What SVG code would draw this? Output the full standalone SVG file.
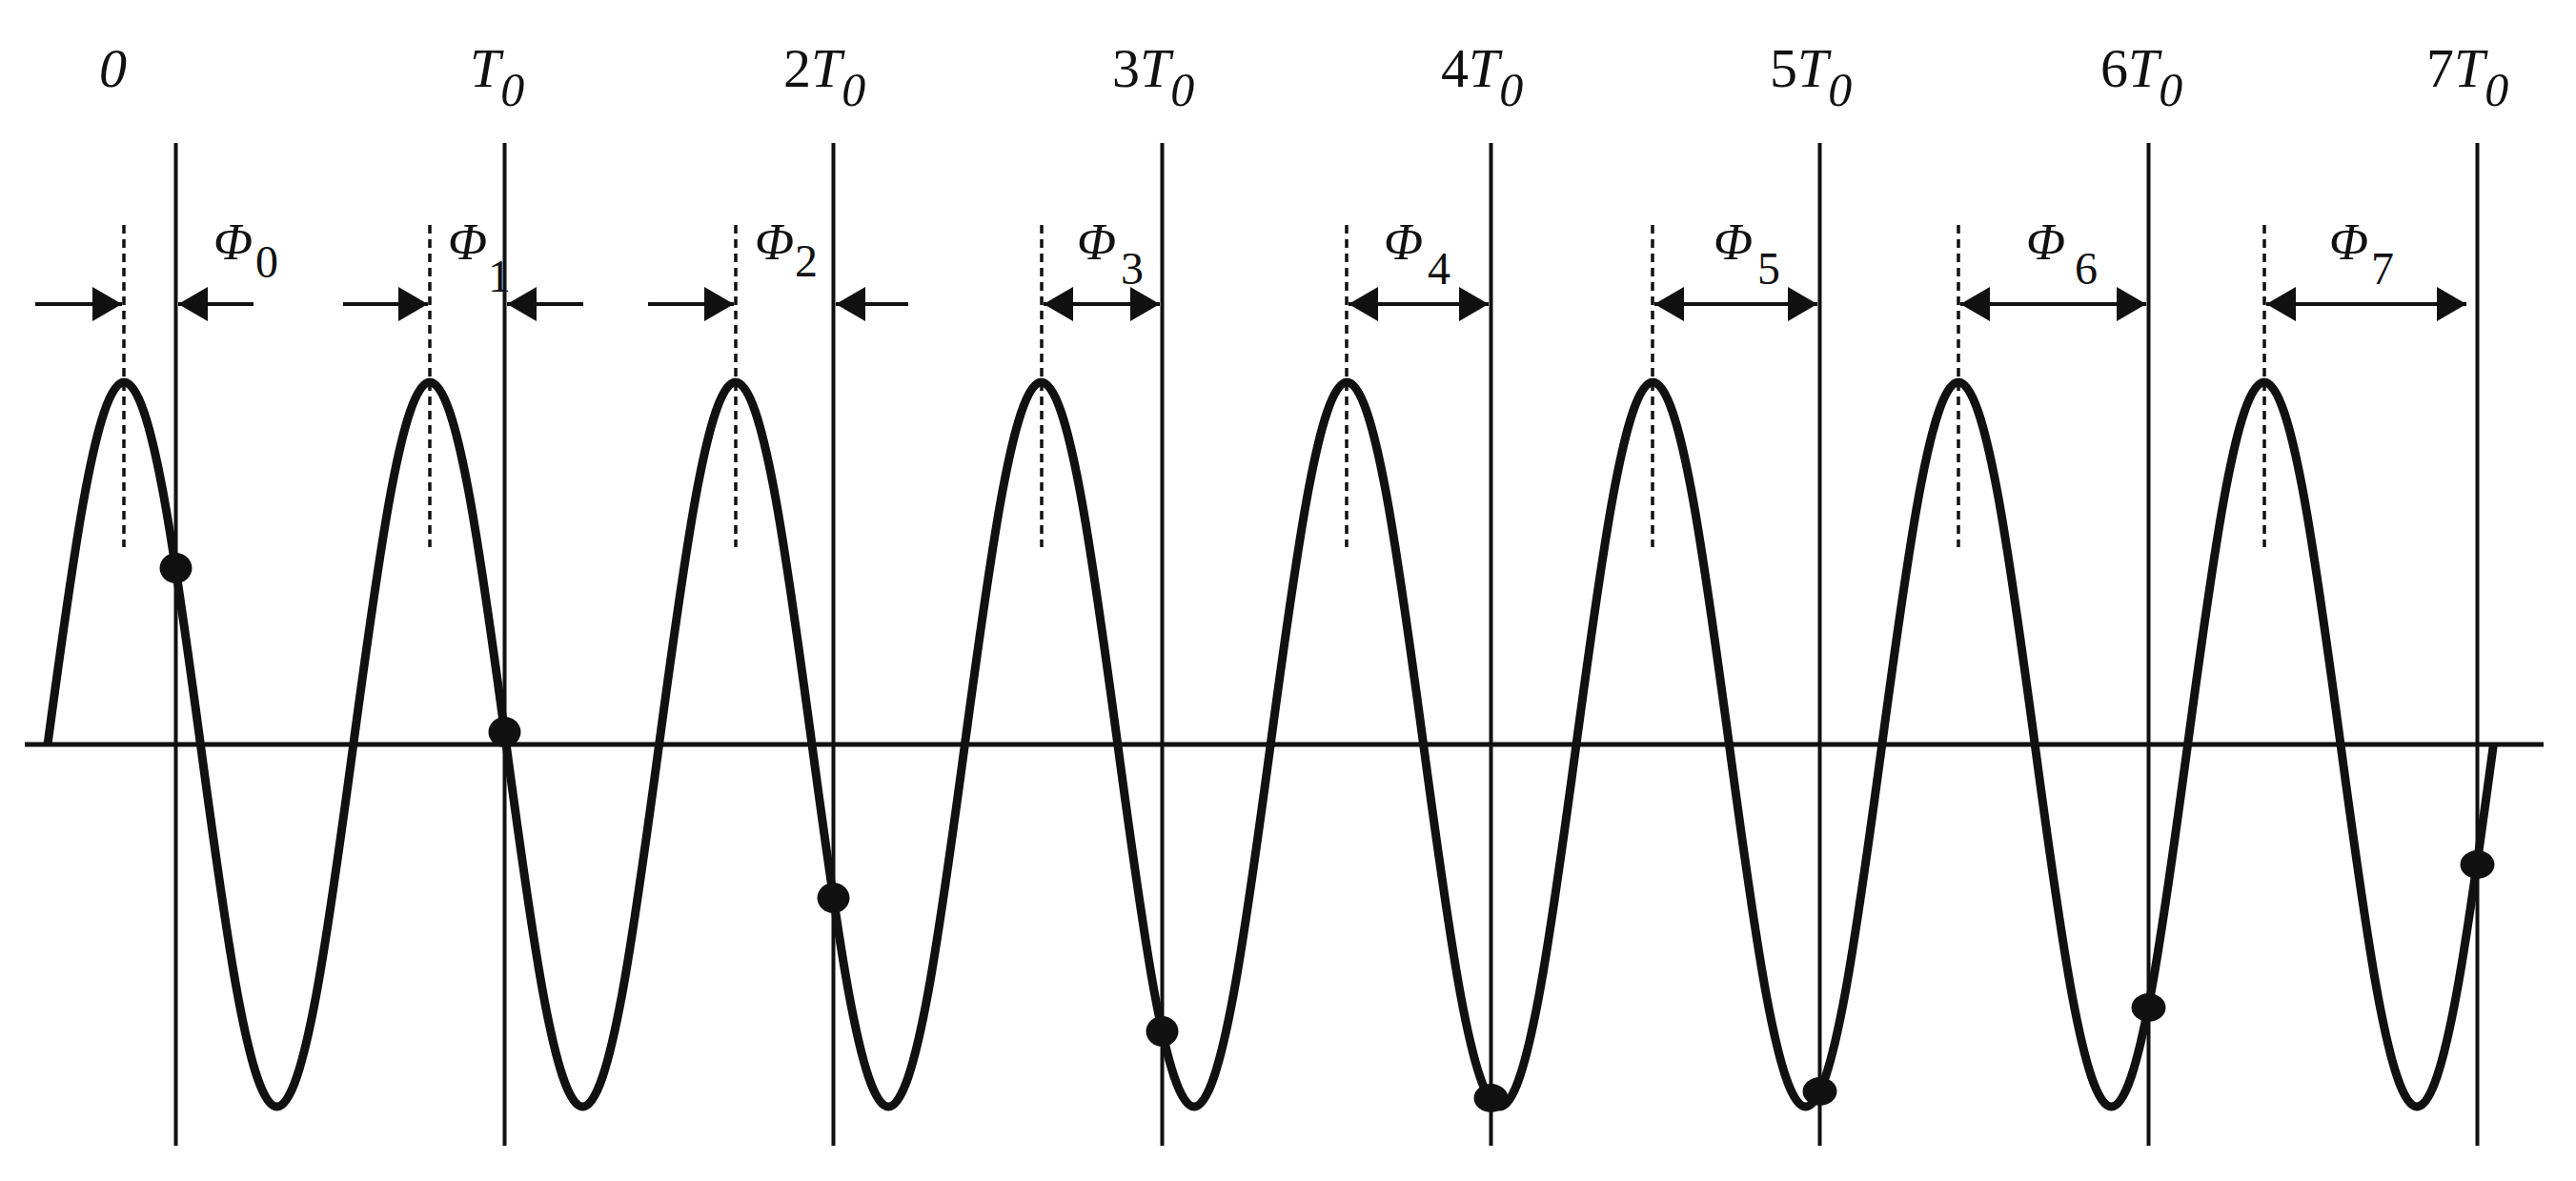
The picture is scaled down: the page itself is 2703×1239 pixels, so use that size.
<svg xmlns="http://www.w3.org/2000/svg" width="2703" height="1239" viewBox="0 0 2703 1239">
<style>
.vl{stroke:#111;stroke-width:4;fill:none}
.ax{stroke:#111;stroke-width:5;fill:none}
.dl{stroke:#111;stroke-width:3.5;stroke-dasharray:9,6;fill:none}
.ar{stroke:#111;stroke-width:4;fill:none;marker-end:url(#ah)}
.dar{stroke:#111;stroke-width:4;fill:none;marker-end:url(#ah);marker-start:url(#ah)}
.cv{stroke:#111;stroke-width:9;fill:none;stroke-linejoin:round}
.dot{fill:#111}
text{font-family:"Liberation Serif","Times New Roman",serif;fill:#111}
.lb{font-size:58px}
.sb{font-size:50px}
.ph{font-size:54px;font-style:italic}
.ps{font-size:48px}
.it{font-style:italic}
</style>
<defs>
<marker id="ah" markerUnits="userSpaceOnUse" markerWidth="32" markerHeight="36" refX="31" refY="18" orient="auto-start-reverse"><path d="M0,0 L31,18 L0,36 Z" fill="#111"/></marker>
</defs>
<g id="axis"><line class="ax" x1="26" y1="781" x2="2669" y2="781"/></g>
<g id="gridlines">
<line class="vl" x1="184.5" y1="150" x2="184.5" y2="1202"/>
<line class="vl" x1="529.5" y1="150" x2="529.5" y2="1202"/>
<line class="vl" x1="874.5" y1="150" x2="874.5" y2="1202"/>
<line class="vl" x1="1219.5" y1="150" x2="1219.5" y2="1202"/>
<line class="vl" x1="1564.5" y1="150" x2="1564.5" y2="1202"/>
<line class="vl" x1="1909.5" y1="150" x2="1909.5" y2="1202"/>
<line class="vl" x1="2254.5" y1="150" x2="2254.5" y2="1202"/>
<line class="vl" x1="2599.5" y1="150" x2="2599.5" y2="1202"/>
</g>
<g id="peaklines">
<line class="dl" x1="130" y1="236" x2="130" y2="574"/>
<line class="dl" x1="451" y1="236" x2="451" y2="574"/>
<line class="dl" x1="772" y1="236" x2="772" y2="574"/>
<line class="dl" x1="1093" y1="236" x2="1093" y2="574"/>
<line class="dl" x1="1413" y1="236" x2="1413" y2="574"/>
<line class="dl" x1="1734" y1="236" x2="1734" y2="574"/>
<line class="dl" x1="2055" y1="236" x2="2055" y2="574"/>
<line class="dl" x1="2376" y1="236" x2="2376" y2="574"/>
</g>
<g id="curve">
<path class="cv" d="M50,781 c26.16,-194.7 51.18,-380 80.2,-380 c29.02,0 54.04,185.3 80.2,380 c26.16,194.7 51.18,380 80.2,380 c29.02,0 54.04,-185.3 80.2,-380
c26.16,-194.7 51.18,-380 80.2,-380 c29.02,0 54.04,185.3 80.2,380 c26.16,194.7 51.18,380 80.2,380 c29.02,0 54.04,-185.3 80.2,-380
c26.16,-194.7 51.18,-380 80.2,-380 c29.02,0 54.04,185.3 80.2,380 c26.16,194.7 51.18,380 80.2,380 c29.02,0 54.04,-185.3 80.2,-380
c26.16,-194.7 51.18,-380 80.2,-380 c29.02,0 54.04,185.3 80.2,380 c26.16,194.7 51.18,380 80.2,380 c29.02,0 54.04,-185.3 80.2,-380
c26.16,-194.7 51.18,-380 80.2,-380 c29.02,0 54.04,185.3 80.2,380 c26.16,194.7 51.18,380 80.2,380 c29.02,0 54.04,-185.3 80.2,-380
c26.16,-194.7 51.18,-380 80.2,-380 c29.02,0 54.04,185.3 80.2,380 c26.16,194.7 51.18,380 80.2,380 c29.02,0 54.04,-185.3 80.2,-380
c26.16,-194.7 51.18,-380 80.2,-380 c29.02,0 54.04,185.3 80.2,380 c26.16,194.7 51.18,380 80.2,380 c29.02,0 54.04,-185.3 80.2,-380
c26.16,-194.7 51.18,-380 80.2,-380 c29.02,0 54.04,185.3 80.2,380 c26.16,194.7 51.18,380 80.2,380 c29.02,0 54.04,-185.3 80.2,-380"/>
</g>
<g id="samples">
<ellipse class="dot" cx="184.5" cy="596" rx="17" ry="16"/>
<ellipse class="dot" cx="529.5" cy="768" rx="17" ry="16"/>
<ellipse class="dot" cx="874.5" cy="942" rx="17" ry="16"/>
<ellipse class="dot" cx="1219.5" cy="1082" rx="17" ry="16"/>
<ellipse class="dot" cx="1564.5" cy="1152" rx="18" ry="15"/>
<ellipse class="dot" cx="1909.5" cy="1145" rx="18" ry="15"/>
<ellipse class="dot" cx="2254.5" cy="1057" rx="18" ry="15"/>
<ellipse class="dot" cx="2599.5" cy="907" rx="18" ry="15"/>
</g>
<g id="connectors">
<line class="ar" x1="37" y1="319" x2="128" y2="319"/>
<line class="ar" x1="266" y1="319" x2="187" y2="319"/>
<line class="ar" x1="360" y1="319" x2="449" y2="319"/>
<line class="ar" x1="612" y1="319" x2="532" y2="319"/>
<line class="ar" x1="680" y1="319" x2="770" y2="319"/>
<line class="ar" x1="953" y1="319" x2="877" y2="319"/>
<line class="dar" x1="1095" y1="319" x2="1217" y2="319"/>
<line class="dar" x1="1415" y1="319" x2="1562" y2="319"/>
<line class="dar" x1="1736" y1="319" x2="1907" y2="319"/>
<line class="dar" x1="2057" y1="319" x2="2252" y2="319"/>
<line class="dar" x1="2378" y1="319" x2="2588" y2="319"/>
</g>
<g id="time-labels">
<text class="lb it" x="104" y="91">0</text>
<text class="lb" x="493" y="91"><tspan class="it">T</tspan><tspan class="sb it" dy="20">0</tspan></text>
<text class="lb" x="822" y="91">2<tspan class="it">T</tspan><tspan class="sb it" dy="20">0</tspan></text>
<text class="lb" x="1167" y="91">3<tspan class="it">T</tspan><tspan class="sb it" dy="20">0</tspan></text>
<text class="lb" x="1512" y="91">4<tspan class="it">T</tspan><tspan class="sb it" dy="20">0</tspan></text>
<text class="lb" x="1857" y="91">5<tspan class="it">T</tspan><tspan class="sb it" dy="20">0</tspan></text>
<text class="lb" x="2204" y="91">6<tspan class="it">T</tspan><tspan class="sb it" dy="20">0</tspan></text>
<text class="lb" x="2546" y="91">7<tspan class="it">T</tspan><tspan class="sb it" dy="20">0</tspan></text>
</g>
<g id="phase-labels">
<text x="224" y="272"><tspan class="ph">Φ</tspan><tspan class="ps" x="268" y="291">0</tspan></text>
<text x="470" y="272"><tspan class="ph">Φ</tspan><tspan class="ps" x="512" y="306">1</tspan></text>
<text x="792" y="272"><tspan class="ph">Φ</tspan><tspan class="ps" x="834" y="290">2</tspan></text>
<text x="1130" y="272"><tspan class="ph">Φ</tspan><tspan class="ps" x="1176" y="298">3</tspan></text>
<text x="1452" y="272"><tspan class="ph">Φ</tspan><tspan class="ps" x="1498" y="298">4</tspan></text>
<text x="1798" y="272"><tspan class="ph">Φ</tspan><tspan class="ps" x="1844" y="298">5</tspan></text>
<text x="2126" y="272"><tspan class="ph">Φ</tspan><tspan class="ps" x="2177" y="298">6</tspan></text>
<text x="2444" y="272"><tspan class="ph">Φ</tspan><tspan class="ps" x="2488" y="298">7</tspan></text>
</g>
</svg>
